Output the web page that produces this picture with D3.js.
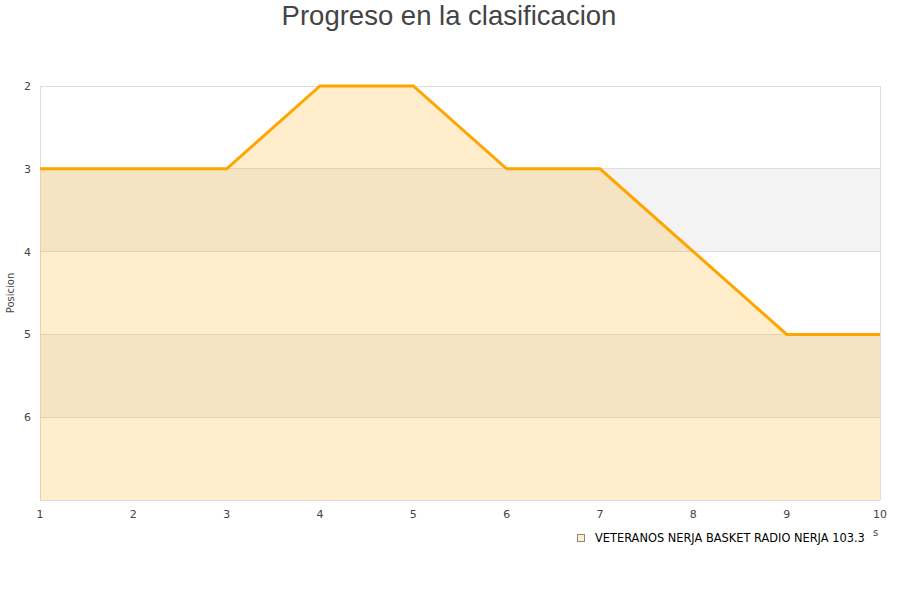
<!DOCTYPE html>
<html><head><meta charset="utf-8">
<script src="https://cdn.jsdelivr.net/npm/d3@7"></script>
<style>body{margin:0;background:#fff;font-family:"DejaVu Sans",sans-serif;}</style>
</head><body>
<svg id="c" width="900" height="600"></svg>
<script>
const jornadas = [1,2,3,4,5,6,7,8,9,10];
const posiciones = [3,3,3,2,2,3,3,4,5,5];
const yTicks = [2,3,4,5,6];
const serieNombre = "VETERANOS NERJA BASKET RADIO NERJA 103.3";
const titulo = "Progreso en la clasificacion";
const yLabel = "Posicion";

const svg = d3.select("#c");
const m = {l:40, r:880, t:86, b:500};
const x = d3.scaleLinear().domain([1,10]).range([m.l, m.r]);
const y = d3.scaleLinear().domain([2,7]).range([m.t, m.b]);

svg.append("text").attr("x",449).attr("y",25).attr("text-anchor","middle")
  .attr("font-family","Liberation Sans, Arial, sans-serif").attr("font-size",27.5).attr("fill","#444").text(titulo);

// bands
const bands = [[3,4],[5,6]];
svg.selectAll("rect.band").data(bands).enter().append("rect")
  .attr("x",m.l).attr("width",m.r-m.l)
  .attr("y",d=>y(d[0])).attr("height",d=>y(d[1])-y(d[0])).attr("fill","#f3f3f3");

// grid
svg.selectAll("line.grid").data([2,3,4,5,6,7]).enter().append("line")
  .attr("x1",m.l).attr("x2",m.r).attr("y1",d=>y(d)).attr("y2",d=>y(d))
  .attr("stroke","#dddddd").attr("stroke-width",1).attr("shape-rendering","crispEdges");
svg.append("line").attr("x1",m.l).attr("x2",m.l).attr("y1",m.t).attr("y2",m.b).attr("stroke","#dddddd").attr("shape-rendering","crispEdges");
svg.append("line").attr("x1",m.r).attr("x2",m.r).attr("y1",m.t).attr("y2",m.b).attr("stroke","#dddddd").attr("shape-rendering","crispEdges");

const data = jornadas.map((j,i)=>({j, p:posiciones[i]}));
svg.append("path").datum(data)
  .attr("d", d3.area().x(d=>x(d.j)).y0(y(7)).y1(d=>y(d.p)))
  .attr("fill","rgba(255,165,0,0.2)");
svg.append("path").datum(data)
  .attr("d", d3.line().x(d=>x(d.j)).y(d=>y(d.p)))
  .attr("fill","none").attr("stroke","#ffa500").attr("stroke-width",3);

// y ticks
svg.selectAll("text.yt").data(yTicks).enter().append("text")
  .attr("x",31).attr("y",d=>y(d)+4).attr("text-anchor","end")
  .attr("font-size",11).attr("fill","#444").text(d=>d);
// x ticks
svg.selectAll("text.xt").data(jornadas).enter().append("text")
  .attr("x",d=>x(d)).attr("y",518).attr("text-anchor","middle")
  .attr("font-size",11).attr("fill","#444").text(d=>d);

svg.append("text").attr("transform","translate(14,293) rotate(-90)")
  .attr("text-anchor","middle").attr("font-size",10).attr("fill","#444").text(yLabel);

// legend
svg.append("rect").attr("x",577.5).attr("y",534.5).attr("width",7).attr("height",7)
  .attr("fill","#ffedcc").attr("stroke","#888");
svg.append("text").attr("x",595).attr("y",542).attr("font-size",11.4).attr("fill","#000").text(serieNombre);
svg.append("text").attr("x",873).attr("y",536).attr("font-size",10).attr("fill","#444").text("s");
</script>
</body></html>
